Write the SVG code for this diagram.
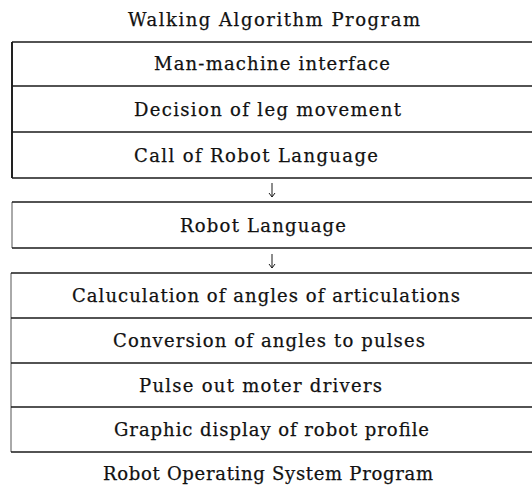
<svg xmlns="http://www.w3.org/2000/svg" width="532" height="486" viewBox="0 0 532 486">
<defs>
<style>
.t{font-family:"DejaVu Serif","Liberation Serif",serif;font-size:18px;fill:#111;stroke:#111;stroke-width:0.25}
.b{fill:none;stroke:#1a1a1a;stroke-width:1.5}
.bl{fill:none;stroke:#222;stroke-width:2}
.bd{fill:none;stroke:#555;stroke-width:1}
.c{fill:none;stroke:#1a1a1a;stroke-width:1}
</style>
<marker id="ah" viewBox="0 0 8 8" refX="7.5" refY="4" markerWidth="8" markerHeight="8" markerUnits="userSpaceOnUse" orient="auto">
<path d="M3.5,1 L7.5,4 L3.5,7" fill="none" stroke="#1a1a1a" stroke-width="1"/>
</marker>
</defs>
<rect width="532" height="486" fill="#fff"/>
<text class="t" x="128" y="26" textLength="292" lengthAdjust="spacing">Walking Algorithm Program</text>
<g id="walking-algorithm">
<line class="bl" x1="12" y1="42" x2="12" y2="178"/>
<g id="man-machine"><line class="b" x1="12" y1="42" x2="532" y2="42"/><text class="t" x="154" y="70" textLength="236" lengthAdjust="spacing">Man-machine interface</text></g>
<g id="decision"><line class="b" x1="12" y1="86" x2="532" y2="86"/><text class="t" x="134" y="116" textLength="267" lengthAdjust="spacing">Decision of leg movement</text></g>
<g id="call"><line class="b" x1="12" y1="132" x2="532" y2="132"/><text class="t" x="134" y="162" textLength="244" lengthAdjust="spacing">Call of Robot Language</text><line class="b" x1="12" y1="178" x2="532" y2="178"/></g>
</g>
<g id="robot-language">
<line class="bd" x1="12" y1="202" x2="12" y2="248"/>
<line class="b" x1="12" y1="202" x2="532" y2="202"/>
<line class="b" x1="12" y1="248" x2="532" y2="248"/>
<text class="t" x="180" y="232" textLength="166" lengthAdjust="spacing">Robot Language</text>
</g>
<g id="robot-os">
<line class="bd" x1="11" y1="273" x2="11" y2="452"/>
<g id="calc"><line class="b" x1="11" y1="273" x2="532" y2="273"/><text class="t" x="72" y="302" textLength="388" lengthAdjust="spacing">Caluculation of angles of articulations</text></g>
<g id="conv"><line class="b" x1="11" y1="318" x2="532" y2="318"/><text class="t" x="113" y="347" textLength="312" lengthAdjust="spacing">Conversion of angles to pulses</text></g>
<g id="pulse"><line class="b" x1="11" y1="363" x2="532" y2="363"/><text class="t" x="139" y="392" textLength="243" lengthAdjust="spacing">Pulse out moter drivers</text></g>
<g id="graphic"><line class="b" x1="11" y1="407" x2="532" y2="407"/><text class="t" x="114" y="436" textLength="315" lengthAdjust="spacing">Graphic display of robot profile</text><line class="b" x1="11" y1="452" x2="532" y2="452"/></g>
</g>
<text class="t" x="103" y="480" textLength="330" lengthAdjust="spacing">Robot Operating System Program</text>
<g id="connectors">
<line class="c" x1="272" y1="183" x2="272" y2="197" marker-end="url(#ah)"/>
<line class="c" x1="272" y1="254" x2="272" y2="268" marker-end="url(#ah)"/>
</g>
</svg>
